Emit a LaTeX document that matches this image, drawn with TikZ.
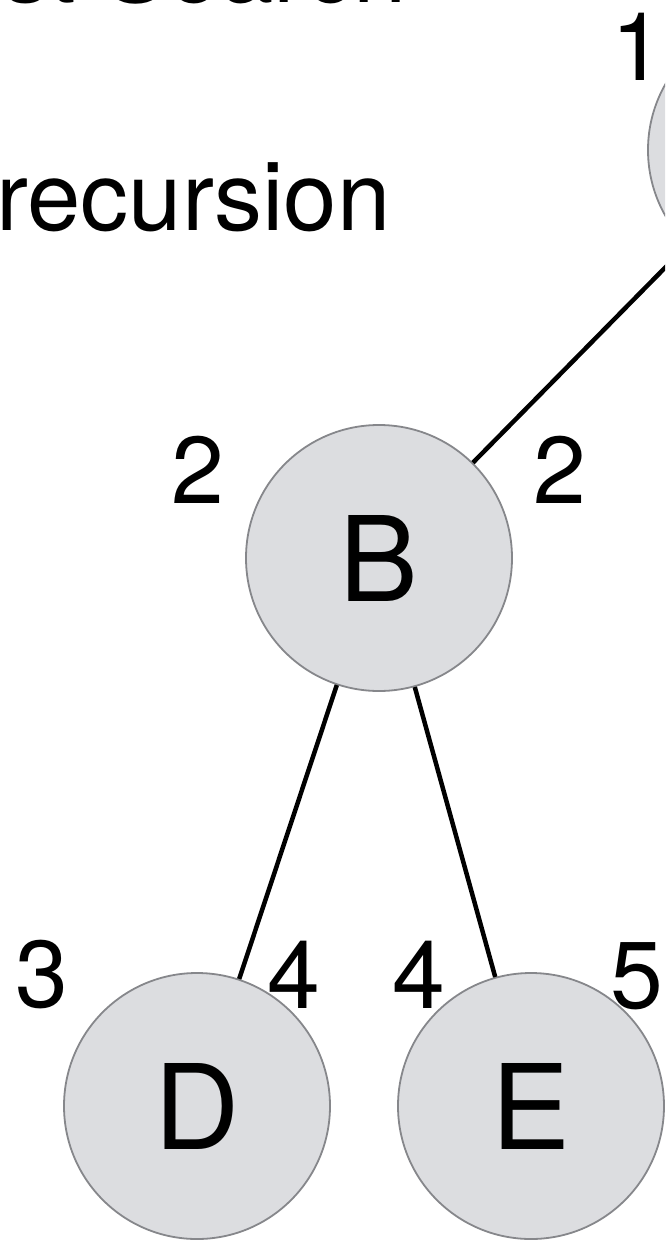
\documentclass[tikz,border=0pt]{standalone}
\usepackage{fontspec}
\setmainfont{TeX Gyre Heros}
\definecolor{nodefill}{HTML}{DCDDE0}
\definecolor{nodeborder}{HTML}{86878B}
\begin{document}
\begin{tikzpicture}[x=1pt,y=-1pt,
  vertex/.style={circle, draw=nodeborder, fill=nodefill, line width=1.8pt,
    minimum size=266pt, inner sep=0pt, font=\fontsize{118}{120}\selectfont},
  edge/.style={line width=4.5pt, draw=black},
  num/.style={anchor=base, inner sep=0pt, font=\fontsize{95}{100}\selectfont},
  txt/.style={anchor=base west, inner sep=0pt, font=\fontsize{96}{100}\selectfont}]
\useasboundingbox (0,0) rectangle (665,1242);
\fill[white] (0,0) rectangle (665,1242);
\clip (0,0) rectangle (665,1242);
% texts
\node[txt] (title) at (2,2) {st Search};
\node[txt] (rec) at (-4,230) {recursion};
% nodes
\node[vertex] (A) at (781,150) {};
\node[vertex] (B) at (379,558) {B};
\node[vertex] (D) at (197,1106) {D};
\node[vertex] (E) at (531,1106) {E};
% edges
\draw[edge] (A) -- (B);
\draw[edge] (B) -- (D);
\draw[edge] (B) -- (E);
% numbers
\node[num] (n1) at (638,80) {1};
\node[num] (n2a) at (198,503) {2};
\node[num] (n2b) at (560,503) {2};
\node[num] (n3) at (42,1007) {3};
\node[num] (n4a) at (294,1008) {4};
\node[num] (n4b) at (419,1008) {4};
\node[num] (n5) at (637,1008) {5};
\end{tikzpicture}
\end{document}
